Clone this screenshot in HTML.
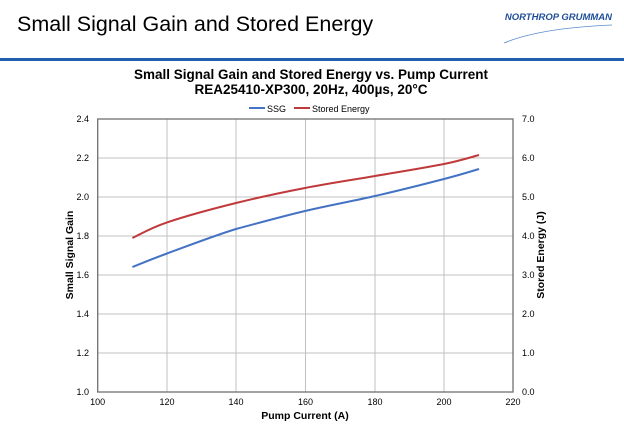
<!DOCTYPE html>
<html><head><style>
body{margin:0;width:624px;height:425px;background:#fff;overflow:hidden;font-family:"Liberation Sans",sans-serif;}
</style></head><body>
<svg width="624" height="425" xmlns="http://www.w3.org/2000/svg" font-family="Liberation Sans, sans-serif">
<text x="17" y="31" font-size="21.5" fill="#000">Small Signal Gain and Stored Energy</text>
<text x="612" y="20" font-size="9.5" font-weight="bold" font-style="italic" fill="#1f4e9a" text-anchor="end">NORTHROP GRUMMAN</text>
<path d="M504,43 Q540,28 612,25" stroke="#5a8ac8" stroke-width="0.8" fill="none"/>
<rect x="0" y="58" width="624" height="3" fill="#1f5fae"/>
<text x="311" y="79" font-size="13.5" font-weight="bold" text-anchor="middle">Small Signal Gain and Stored Energy vs. Pump Current</text>
<text x="311" y="94" font-size="13.5" font-weight="bold" text-anchor="middle">REA25410-XP300,  20Hz, 400µs,  20°C</text>
<line x1="249" y1="108" x2="265" y2="108" stroke="#4472c4" stroke-width="2"/>
<text x="267" y="112" font-size="9">SSG</text>
<line x1="294" y1="108" x2="310" y2="108" stroke="#c0393b" stroke-width="2"/>
<text x="312" y="112" font-size="9">Stored Energy</text>
<g stroke="#c0c0c0" stroke-width="1">
<line x1="97.7" y1="158" x2="513" y2="158"/><line x1="97.7" y1="197" x2="513" y2="197"/><line x1="97.7" y1="236" x2="513" y2="236"/><line x1="97.7" y1="275" x2="513" y2="275"/><line x1="97.7" y1="314" x2="513" y2="314"/><line x1="97.7" y1="353" x2="513" y2="353"/>
<line x1="167" y1="119" x2="167" y2="392"/><line x1="236" y1="119" x2="236" y2="392"/><line x1="305.5" y1="119" x2="305.5" y2="392"/><line x1="375" y1="119" x2="375" y2="392"/><line x1="444" y1="119" x2="444" y2="392"/>
</g>
<rect x="97.7" y="119" width="415.3" height="273" fill="none" stroke="#707070" stroke-width="1.3"/>
<g font-size="9" text-anchor="end">
<text x="89" y="122">2.4</text><text x="89" y="161">2.2</text><text x="89" y="200">2.0</text><text x="89" y="239">1.8</text><text x="89" y="278">1.6</text><text x="89" y="317">1.4</text><text x="89" y="356">1.2</text><text x="89" y="395">1.0</text>
</g>
<g font-size="9">
<text x="522" y="122">7.0</text><text x="522" y="161">6.0</text><text x="522" y="200">5.0</text><text x="522" y="239">4.0</text><text x="522" y="278">3.0</text><text x="522" y="317">2.0</text><text x="522" y="356">1.0</text><text x="522" y="395">0.0</text>
</g>
<g font-size="9" text-anchor="middle">
<text x="97.7" y="405">100</text><text x="167" y="405">120</text><text x="236" y="405">140</text><text x="305.5" y="405">160</text><text x="375" y="405">180</text><text x="444" y="405">200</text><text x="513" y="405">220</text>
</g>
<text x="305" y="419" font-size="10.5" font-weight="bold" text-anchor="middle">Pump Current (A)</text>
<text transform="translate(73,255) rotate(-90)" font-size="10.5" font-weight="bold" text-anchor="middle">Small Signal Gain</text>
<text transform="translate(544,255) rotate(-90)" font-size="10.5" font-weight="bold" text-anchor="middle">Stored Energy (J)</text>
<path d="M132.4,267 C138.2,264.75 149.7,259.8 167,253.5 C184.3,247.2 213,236.1 236,229 C259,222.9 281.8,216.5 305,211 C328.2,205.5 351.8,201.3 375,196 C398.2,190.7 426.7,183.5 444,179 C461.3,174.5 473.2,170.7 479,169" stroke="#4472c4" stroke-width="2" fill="none"/>
<path d="M132.4,238 C138.2,235.4 149.7,228.2 167,222.4 C184.3,216.6 213,208.7 236,203 C259,197.3 281.8,192.5 305,188 C328.2,183.5 351.8,180 375,176 C398.2,172 426.7,167.5 444,164 C461.3,160.5 473.2,156.5 479,155" stroke="#c0393b" stroke-width="2" fill="none"/>
</svg>
</body></html>
